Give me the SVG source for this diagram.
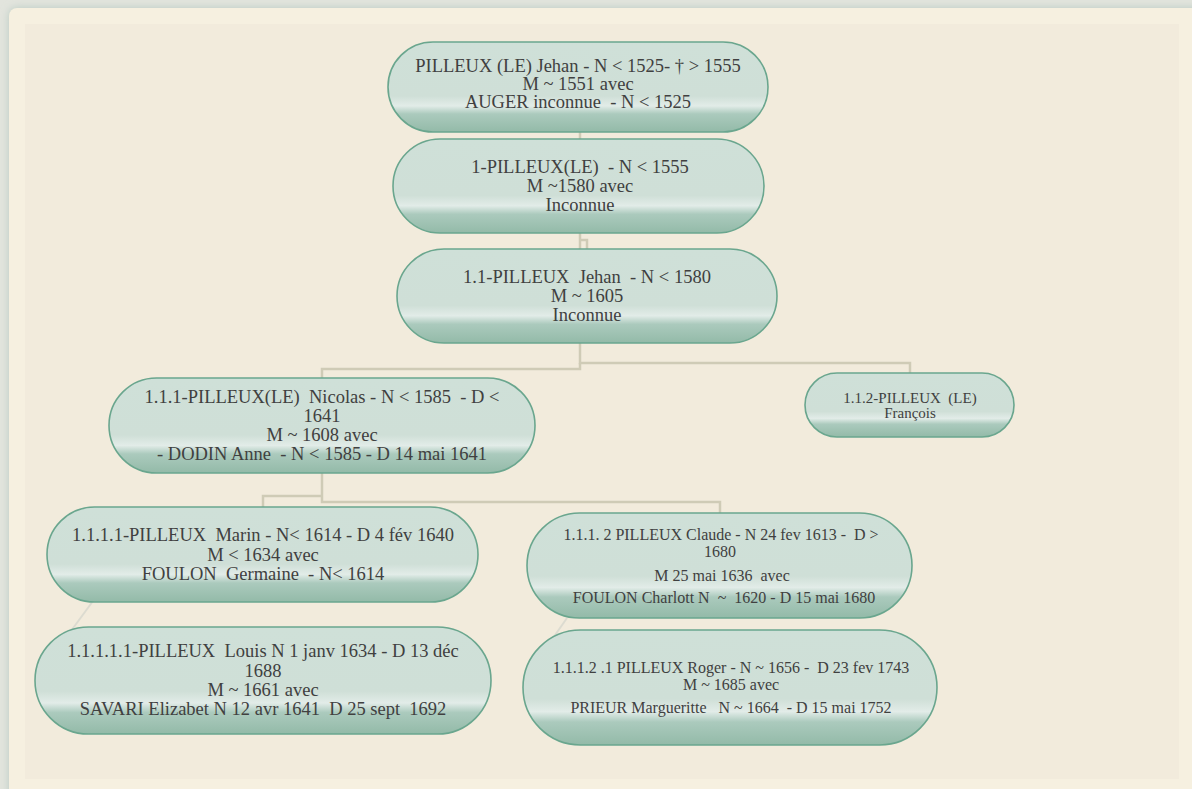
<svg xmlns="http://www.w3.org/2000/svg" width="1192" height="789" viewBox="0 0 1192 789">
<defs>
<linearGradient id="g" x1="0" y1="0" x2="0" y2="1">
<stop offset="0" stop-color="#cfe0d8"/>
<stop offset="0.6" stop-color="#cfdfd7"/>
<stop offset="0.71" stop-color="#e2ece8"/>
<stop offset="0.80" stop-color="#abcabd"/>
<stop offset="1" stop-color="#93baa8"/>
</linearGradient>
<filter id="sh" x="-5%" y="-5%" width="110%" height="110%">
<feGaussianBlur stdDeviation="4"/>
</filter>
<style>
.n{fill:url(#g);stroke:#6aa68e;stroke-width:1.6}
.t{font-family:"Liberation Serif","Times New Roman",serif;fill:#404040;text-anchor:middle;white-space:pre}
.b{font-size:18.5px}
.s{font-size:16px}
.xs{font-size:15px}
.c{fill:none;stroke:#cfcbb6;stroke-width:2.5}
.d{fill:none;stroke:#dcdbd0;stroke-width:2}
</style>
</defs>
<rect x="0" y="0" width="1192" height="789" fill="#e2e4dd"/>
<rect x="9" y="8" width="1200" height="800" rx="8" fill="#b9cbc2" filter="url(#sh)"/>
<rect x="9" y="8" width="1200" height="800" rx="8" fill="#f6f0e0"/>
<rect x="25" y="24" width="1154" height="755" fill="#f2ebdc"/>

<g id="connectors">
<path class="c" d="M580,132 V139"/>
<path class="c" d="M580,233 V249 M580,240 H587 V249"/>
<path class="c" d="M580,343 V363 H910 V373"/>
<path class="c" d="M580,363 V369 H322 V378"/>
<path class="c" d="M322,473 V502 H720 V513"/>
<path class="c" d="M322,496 H263 V507"/>
<path class="d" d="M93,601 L68,635"/>
<path class="d" d="M567,618 L553,638"/>
</g>

<g id="node-root">
<rect class="n" x="388" y="42" width="380" height="90" rx="45"/>
<text class="t b" x="578" y="72">PILLEUX (LE) Jehan - N &lt; 1525- † &gt; 1555</text>
<text class="t b" x="578" y="90">M ~ 1551 avec</text>
<text class="t b" x="578" y="108">AUGER inconnue  - N &lt; 1525</text>
</g>

<g id="node-1">
<rect class="n" x="393" y="139" width="371" height="94" rx="47"/>
<text class="t b" x="580" y="173">1-PILLEUX(LE)  - N &lt; 1555</text>
<text class="t b" x="580" y="192">M ~1580 avec</text>
<text class="t b" x="580" y="211">Inconnue</text>
</g>

<g id="node-1-1">
<rect class="n" x="397" y="249" width="380" height="94" rx="47"/>
<text class="t b" x="587" y="283">1.1-PILLEUX  Jehan  - N &lt; 1580</text>
<text class="t b" x="587" y="302">M ~ 1605</text>
<text class="t b" x="587" y="321">Inconnue</text>
</g>

<g id="node-1-1-1">
<rect class="n" x="109" y="378" width="426" height="95" rx="47.5"/>
<text class="t b" x="322" y="403">1.1.1-PILLEUX(LE)  Nicolas - N &lt; 1585  - D &lt;</text>
<text class="t b" x="322" y="422">1641</text>
<text class="t b" x="322" y="441">M ~ 1608 avec</text>
<text class="t b" x="322" y="460">- DODIN Anne  - N &lt; 1585 - D 14 mai 1641</text>
</g>

<g id="node-1-1-2">
<rect class="n" x="805" y="373" width="209" height="64" rx="32"/>
<text class="t xs" x="910" y="403">1.1.2-PILLEUX  (LE)</text>
<text class="t xs" x="910" y="418">François</text>
</g>

<g id="node-1-1-1-1">
<rect class="n" x="47" y="507" width="431" height="95" rx="47.5"/>
<text class="t b" x="263" y="541">1.1.1.1-PILLEUX  Marin - N&lt; 1614 - D 4 fév 1640</text>
<text class="t b" x="263" y="561">M &lt; 1634 avec</text>
<text class="t b" x="263" y="580">FOULON  Germaine  - N&lt; 1614</text>
</g>

<g id="node-1-1-1-1-1">
<rect class="n" x="35" y="627" width="456" height="107" rx="53.5"/>
<text class="t b" x="263" y="657">1.1.1.1.1-PILLEUX  Louis N 1 janv 1634 - D 13 déc</text>
<text class="t b" x="263" y="677">1688</text>
<text class="t b" x="263" y="696">M ~ 1661 avec</text>
<text class="t b" x="263" y="715">SAVARI Elizabet N 12 avr 1641  D 25 sept  1692</text>
</g>

<g id="node-1-1-1-2">
<rect class="n" x="527" y="513" width="385" height="105" rx="52.5"/>
<text class="t s" x="721" y="540">1.1.1. 2 PILLEUX Claude - N 24 fev 1613 -  D &gt;</text>
<text class="t s" x="720" y="557">1680</text>
<text class="t s" x="722" y="581">M 25 mai 1636  avec</text>
<text class="t s" x="724" y="603">FOULON Charlott N  ~  1620 - D 15 mai 1680</text>
</g>

<g id="node-1-1-1-2-1">
<rect class="n" x="523" y="630" width="414" height="115" rx="57.5"/>
<text class="t s" x="731" y="673">1.1.1.2 .1 PILLEUX Roger - N ~ 1656 -  D 23 fev 1743</text>
<text class="t s" x="731" y="690">M ~ 1685 avec</text>
<text class="t s" x="731" y="713">PRIEUR Margueritte   N ~ 1664  - D 15 mai 1752</text>
</g>
</svg>
